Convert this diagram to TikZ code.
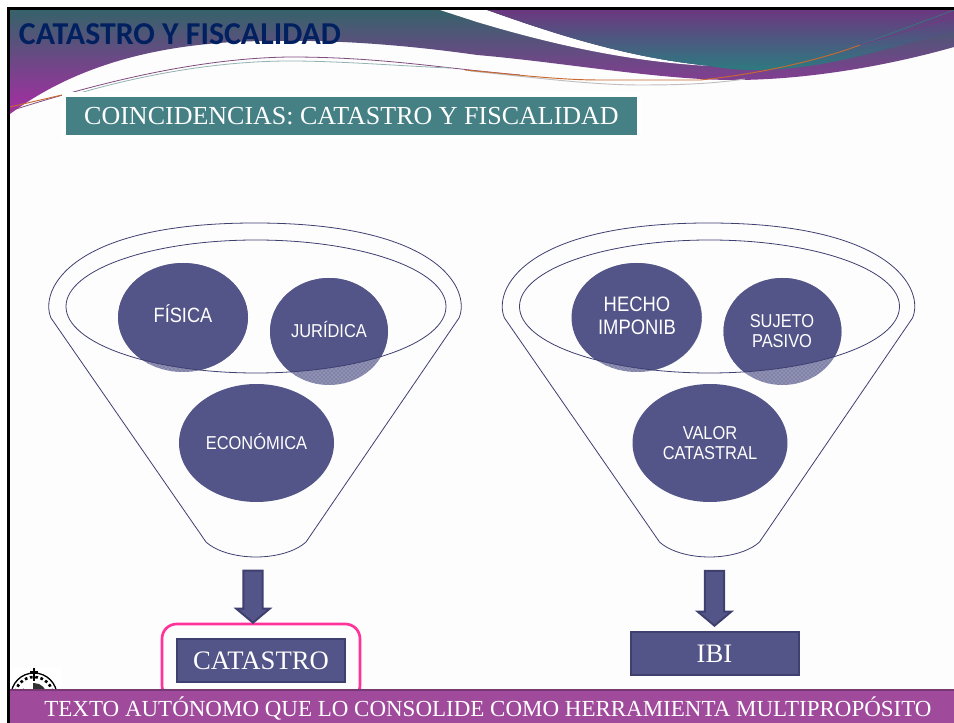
\documentclass[tikz,border=0pt]{standalone}
\usepackage{fontspec}
\setmainfont{Liberation Serif}
\newfontfamily\titlefont{Carlito}
\newfontfamily\labelfont[FakeStretch=0.88]{Liberation Sans}
\usetikzlibrary{shapes.geometric,shapes.arrows,patterns}
\definecolor{slate}{HTML}{535488}
\definecolor{slatedark}{HTML}{3F3F70}
\definecolor{tealbox}{HTML}{458085}
\definecolor{barpurple}{HTML}{A04A9C}
\definecolor{pagegrey}{HTML}{FDFDFD}
\definecolor{bannertop}{HTML}{36626A}
\definecolor{bannermid}{HTML}{7D4890}
\definecolor{bannerlow}{HTML}{A82CA4}
\definecolor{wavetop}{HTML}{6B3880}
\definecolor{wavelow}{HTML}{2D7A80}
\definecolor{titleblue}{HTML}{002060}
\definecolor{pinkline}{HTML}{FF3399}
\definecolor{orangeline}{HTML}{C86A30}
\begin{document}
\begin{tikzpicture}
            [
            x=0.75pt,y=-0.75pt,
            funnel line/.style = {draw=slatedark, line width=0.6pt},
            bubble node/.style = {ellipse, fill=slate, text=white, inner sep=0, align=center, font=\labelfont\fontsize{14}{15.5}\selectfont},
            bubble text/.style = {inner sep=0, text=white, align=center, font=\labelfont\fontsize{14}{15.5}\selectfont},
            one line/.style = {text height=10pt, text depth=0pt},
            result node/.style = {rectangle, draw=slatedark, line width=1.5pt, fill=slate, text=white, inner sep=0, font=\fontsize{20}{24}\selectfont},
            down arrow/.style = {single arrow, draw=slatedark, line width=1.5pt, fill=slate, shape border rotate=270, anchor=tip, inner sep=6.4pt, minimum width=24.5pt, single arrow head extend=5.4pt, single arrow tip angle=100},
            ]
            \useasboundingbox (0,0) rectangle (954,723);
            \fill[pagegrey] (0,0) rectangle (954,723);
            \fill[white] (0,0) rectangle (954,8);

            % banner
            \shade[top color=bannertop, middle color=bannermid, bottom color=bannerlow]
                (10,10) -- (954,10) -- (954,47) .. controls (880,68) and (800,80) .. (734,80)
                .. controls (660,80) and (560,62) .. (477,55) .. controls (400,44) and (330,40) .. (280,41)
                .. controls (170,40) and (80,62) .. (10,114) -- cycle;
            \fill[white] (440,10) -- (487,10) .. controls (560,36) and (630,58) .. (710,66)
                .. controls (630,62) and (550,44) .. (477,22) -- cycle;
            \shade[top color=wavetop, bottom color=wavelow]
                (487,10) -- (954,10) -- (954,32) .. controls (890,46) and (830,70) .. (754,70)
                .. controls (735,70) and (720,68) .. (710,66) .. controls (630,58) and (560,36) .. (487,10) -- cycle;
            \draw[violet!40!gray, line width=0.6pt] (10,111) .. controls (100,82) and (200,58) .. (290,57)
                .. controls (380,57) and (440,68) .. (520,75);
            \draw[teal!40!gray!60, line width=0.6pt] (73,95) .. controls (130,78) and (210,61) .. (290,61)
                .. controls (340,61) and (400,66) .. (450,68);
            \draw[gray!50, line width=0.7pt] (470,71) .. controls (530,77) and (590,85) .. (640,85)
                .. controls (680,85) and (710,84) .. (745,79);
            \draw[orangeline, line width=0.7pt] (10,107) -- (62,95);
            \draw[orangeline, line width=0.7pt] (465,70) .. controls (520,75) and (560,80) .. (600,80)
                -- (700,80) .. controls (760,74) and (820,60) .. (860,45);
            \draw[teal!60!gray, line width=0.4pt] (860,45) -- (954,10);
            \draw[violet!60!gray, line width=0.4pt] (860,45) -- (954,17);
            \node[text=titleblue, font=\titlefont\bfseries\fontsize{23.9}{26}\selectfont] (maintitle) at (180,34) {CATASTRO Y FISCALIDAD};

            % subtitle
            \fill[white] (62,92) rectangle (641,139);
            \node[rectangle, fill=tealbox, text=white, inner sep=0, minimum width=571*0.75pt, minimum height=38*0.75pt, font=\fontsize{19.5}{24}\selectfont] (subtitle) at (351.5,116) {COINCIDENCIAS: CATASTRO Y FISCALIDAD};

            % funnels
            \foreach \dx in {0,453.5}{
                \draw[funnel line] (51+\dx,318) .. controls (39+\dx,290) and (70+\dx,223) .. (255+\dx,223)
                    .. controls (440+\dx,223) and (471+\dx,290) .. (459+\dx,318)
                    -- (306+\dx,542) .. controls (295+\dx,552) and (275+\dx,557) .. (256+\dx,557)
                    .. controls (237+\dx,557) and (217+\dx,552) .. (206+\dx,542) -- cycle;
            }
            \foreach \cx/\cy/\rx/\ry in {183/317.5/65/54.5, 329/331.5/59/53.5, 637/317.5/65/54.5, 782.5/331.5/59/53.5}{
                \fill[slate!65!white] (\cx,\cy) ellipse [x radius=\rx, y radius=\ry];
                \fill[pattern=crosshatch dots, pattern color=slate] (\cx,\cy) ellipse [x radius=\rx, y radius=\ry];
            }
            \foreach \dx in {0,453.5}{
                \begin{scope}
                    \clip (256+\dx,306.5) ellipse [x radius=190, y radius=66.5];
                    \fill[slate] (183+\dx,317.5) ellipse [x radius=65, y radius=54.5];
                    \fill[slate] (329+\dx,331.5) ellipse [x radius=59, y radius=53.5];
                \end{scope}
                \draw[funnel line] (256+\dx,306.5) ellipse [x radius=190, y radius=66.5];
            }

            \node[bubble text, one line, font=\labelfont\fontsize{15.5}{17}\selectfont] (fisica) at (183,316) {FÍSICA};
            \node[bubble text, one line] (juridica) at (329,331) {JURÍDICA};
            \node[bubble node, one line, minimum width=155*0.75pt, minimum height=118*0.75pt] (economica) at (256.5,443) {ECONÓMICA};
            \node[bubble text, font=\labelfont\fontsize{15.7}{17.5}\selectfont] (hecho) at (637,316) {HECHO\\IMPONIB};
            \node[bubble text] (sujeto) at (782,331) {SUJETO\\PASIVO};
            \node[bubble node, minimum width=155*0.75pt, minimum height=118*0.75pt] (valor) at (710,443) {VALOR\\CATASTRAL};

            % results
            \draw[draw=pinkline, line width=2pt, rounded corners=11pt] (162,624) rectangle (360,700);
            \node[result node, minimum width=168*0.75pt, minimum height=43*0.75pt] (catastro) at (261,660.5) {CATASTRO};
            \node[result node, minimum width=168*0.75pt, minimum height=43*0.75pt] (ibi) at (714.5,653.5) {IBI};
            \node[down arrow, minimum height=39pt] (arrowleft) at (253,624) {};
            \node[down arrow, minimum height=41.2pt] (arrowright) at (714.5,627) {};

            % seal
            \fill[white] (10,668) rectangle (62,689);
            \draw[black, line width=1pt] (34,696) circle (23);
            \draw[black, line width=2pt, dash pattern=on 2pt off 2pt] (34,696) circle (19);
            \fill[black!80] (34,696) circle (13);
            \fill[white] (24,683) rectangle (33,692);
            \draw[black, line width=1pt] (34,668) -- (34,681) (30,672) -- (38,672);

            % bar and frame
            \fill[barpurple] (10,689) rectangle (954,723);
            \fill[barpurple!75!black] (10,689) rectangle (954,691);
            \node[text=white, inner sep=0, font=\fontsize{17.24}{20}\selectfont] (bottomtext) at (488,708) {TEXTO AUTÓNOMO QUE LO CONSOLIDE COMO HERRAMIENTA MULTIPROPÓSITO};
            \fill[black] (7,7) rectangle (954,10);
            \fill[black] (7,7) rectangle (10,723);
        \end{tikzpicture}
\end{document}
